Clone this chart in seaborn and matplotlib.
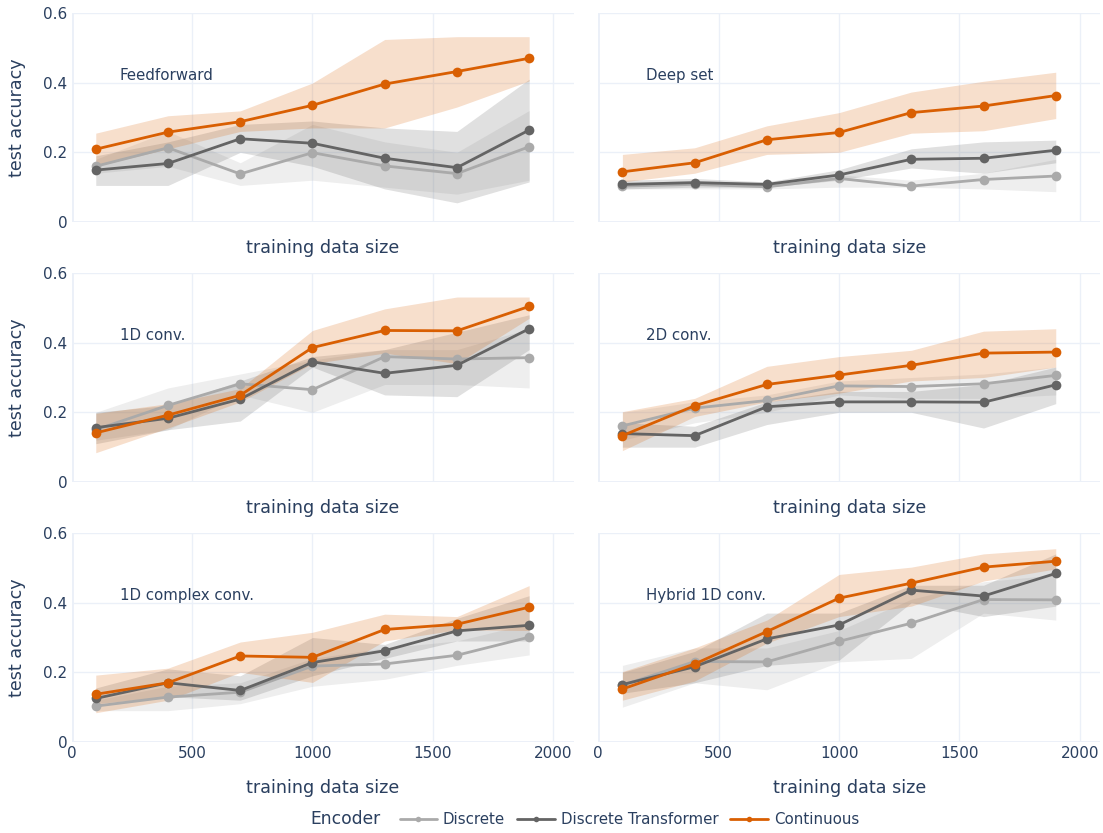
import numpy as np
import pandas as pd
import seaborn as sns
import matplotlib.pyplot as plt
from matplotlib.lines import Line2D

# data
sizes = [100, 400, 700, 1000, 1300, 1600, 1900]
encoders = ['Discrete', 'Discrete Transformer', 'Continuous']
panels = ['Feedforward', 'Deep set', '1D conv.', '2D conv.', '1D complex conv.', 'Hybrid 1D conv.']

# rows: Discrete, Discrete Transformer, Continuous
ff_mean = [[0.160, 0.213, 0.138, 0.199, 0.161, 0.139, 0.216],
           [0.149, 0.168, 0.239, 0.226, 0.183, 0.156, 0.264],
           [0.209, 0.258, 0.288, 0.335, 0.396, 0.432, 0.470]]
ff_lo = [[0.140, 0.160, 0.105, 0.120, 0.100, 0.080, 0.120],
         [0.105, 0.105, 0.200, 0.160, 0.095, 0.055, 0.115],
         [0.160, 0.210, 0.260, 0.270, 0.270, 0.330, 0.405]]
ff_hi = [[0.180, 0.260, 0.170, 0.280, 0.230, 0.200, 0.320],
         [0.190, 0.230, 0.280, 0.290, 0.270, 0.260, 0.410],
         [0.255, 0.305, 0.319, 0.399, 0.524, 0.532, 0.532]]

ds_mean = [[0.103, 0.108, 0.101, 0.125, 0.103, 0.122, 0.132],
           [0.108, 0.113, 0.108, 0.135, 0.180, 0.183, 0.206],
           [0.144, 0.170, 0.236, 0.257, 0.314, 0.333, 0.363]]
ds_lo = [[0.095, 0.095, 0.095, 0.100, 0.100, 0.095, 0.087],
         [0.095, 0.100, 0.100, 0.120, 0.155, 0.140, 0.170],
         [0.115, 0.140, 0.194, 0.200, 0.255, 0.262, 0.297]]
ds_hi = [[0.110, 0.120, 0.110, 0.135, 0.120, 0.140, 0.180],
         [0.120, 0.125, 0.115, 0.150, 0.210, 0.230, 0.235],
         [0.194, 0.213, 0.276, 0.314, 0.373, 0.404, 0.430]]

c1_mean = [[0.150, 0.220, 0.282, 0.265, 0.360, 0.353, 0.357],
           [0.156, 0.183, 0.238, 0.345, 0.312, 0.335, 0.440],
           [0.141, 0.192, 0.249, 0.386, 0.435, 0.434, 0.504]]
c1_lo = [[0.120, 0.150, 0.250, 0.200, 0.280, 0.280, 0.270],
         [0.110, 0.150, 0.175, 0.330, 0.250, 0.245, 0.380],
         [0.084, 0.155, 0.230, 0.340, 0.370, 0.340, 0.470]]
c1_hi = [[0.200, 0.270, 0.310, 0.350, 0.380, 0.380, 0.440],
         [0.200, 0.220, 0.290, 0.360, 0.380, 0.430, 0.480],
         [0.197, 0.225, 0.268, 0.435, 0.497, 0.531, 0.531]]

c2_mean = [[0.161, 0.212, 0.234, 0.276, 0.274, 0.282, 0.306],
           [0.139, 0.133, 0.216, 0.230, 0.230, 0.229, 0.279],
           [0.133, 0.219, 0.280, 0.307, 0.335, 0.370, 0.373]]
c2_lo = [[0.120, 0.170, 0.200, 0.250, 0.240, 0.240, 0.250],
         [0.100, 0.100, 0.165, 0.200, 0.200, 0.155, 0.225],
         [0.090, 0.188, 0.230, 0.255, 0.290, 0.300, 0.330]]
c2_hi = [[0.200, 0.230, 0.250, 0.290, 0.300, 0.310, 0.330],
         [0.170, 0.160, 0.230, 0.260, 0.260, 0.280, 0.330],
         [0.202, 0.240, 0.332, 0.360, 0.378, 0.433, 0.440]]

cc_mean = [[0.103, 0.129, 0.143, 0.218, 0.224, 0.249, 0.301],
           [0.125, 0.170, 0.148, 0.228, 0.262, 0.319, 0.335],
           [0.137, 0.170, 0.247, 0.243, 0.323, 0.338, 0.387]]
cc_lo = [[0.090, 0.090, 0.110, 0.160, 0.180, 0.220, 0.250],
         [0.110, 0.130, 0.120, 0.190, 0.240, 0.290, 0.290],
         [0.084, 0.120, 0.200, 0.171, 0.290, 0.322, 0.320]]
cc_hi = [[0.120, 0.160, 0.170, 0.240, 0.270, 0.290, 0.340],
         [0.155, 0.210, 0.190, 0.300, 0.280, 0.355, 0.420],
         [0.192, 0.212, 0.287, 0.315, 0.367, 0.360, 0.449]]

hy_mean = [[0.163, 0.231, 0.230, 0.289, 0.341, 0.409, 0.408],
           [0.165, 0.216, 0.296, 0.336, 0.436, 0.419, 0.484],
           [0.152, 0.224, 0.317, 0.413, 0.456, 0.502, 0.519]]
hy_lo = [[0.100, 0.170, 0.150, 0.230, 0.240, 0.370, 0.350],
         [0.140, 0.170, 0.220, 0.235, 0.400, 0.360, 0.390],
         [0.120, 0.175, 0.284, 0.360, 0.390, 0.462, 0.497]]
hy_hi = [[0.220, 0.270, 0.270, 0.320, 0.410, 0.460, 0.480],
         [0.200, 0.260, 0.370, 0.370, 0.450, 0.450, 0.540],
         [0.202, 0.270, 0.350, 0.481, 0.502, 0.540, 0.555]]

means = [ff_mean, ds_mean, c1_mean, c2_mean, cc_mean, hy_mean]
lows = [ff_lo, ds_lo, c1_lo, c2_lo, cc_lo, hy_lo]
highs = [ff_hi, ds_hi, c1_hi, c2_hi, cc_hi, hy_hi]

colors = {'Discrete': '#AAAAAA', 'Discrete Transformer': '#646464', 'Continuous': '#D95F02'}
grid_c = '#EBF0F8'
text_c = '#2A3F5F'

sns.set_theme(style='white')
plt.rcParams['font.family'] = ['DejaVu Sans']

fig = plt.figure(figsize=(11.03, 8.33), dpi=100)

W, H = 1103, 833
col_x = [71.7, 598.3]
ax_w = 502
row_top = [13, 273, 533]
ax_h = 209

for i, name in enumerate(panels):
    r, c = divmod(i, 2)
    ax = fig.add_axes([col_x[c] / W, 1 - (row_top[r] + ax_h) / H, ax_w / W, ax_h / H])

    rows = []
    for k, enc in enumerate(encoders):
        for x, y in zip(sizes, means[i][k]):
            rows.append({'size': x, 'acc': y, 'Encoder': enc})
        ax.fill_between(sizes, lows[i][k], highs[i][k], color=colors[enc],
                        alpha=0.2, linewidth=0, zorder=1)
    df = pd.DataFrame(rows)
    sns.lineplot(data=df, x='size', y='acc', hue='Encoder', palette=colors,
                 marker='o', markersize=7, markeredgewidth=0, linewidth=2,
                 errorbar=None, legend=False, ax=ax, zorder=3)

    ax.set_xlim(0, 2085)
    ax.set_ylim(0, 0.6)
    ax.set_xticks([0, 500, 1000, 1500, 2000])
    ax.set_yticks([0, 0.2, 0.4, 0.6])
    ax.grid(True, color=grid_c, linewidth=1)
    ax.axhline(0, color=grid_c, linewidth=2, zorder=0)
    ax.axvline(0, color=grid_c, linewidth=2, zorder=0)
    for s in ax.spines.values():
        s.set_visible(False)
    ax.tick_params(length=0, labelsize=11, colors=text_c, pad=3)
    ax.set_axisbelow(True)

    if c == 0:
        ax.set_yticklabels(['0', '0.2', '0.4', '0.6'])
        ax.set_ylabel('test accuracy', fontsize=12.6, color=text_c)
        ax.yaxis.set_label_coords(-0.092, 0.5)
    else:
        ax.set_yticklabels([])
        ax.set_ylabel('')
    ax.set_xlabel('training data size', fontsize=12.6, color=text_c)
    if r == 2:
        ax.set_xticklabels(['0', '500', '1000', '1500', '2000'])
        ax.xaxis.set_label_coords(0.5, -0.175)
    else:
        ax.set_xticklabels([])
        ax.xaxis.set_label_coords(0.5, -0.08)

    ax.text(200, 0.42, name, fontsize=10.8, color=text_c, ha='left', va='center')

handles = [Line2D([0], [0], color=colors[e], marker='o', markersize=4,
                  markeredgewidth=0, linewidth=2) for e in encoders]
fig.text(310 / W, 1 - 819 / H, 'Encoder', fontsize=12.3, color=text_c,
         ha='left', va='center')
leg = fig.legend(handles, encoders, loc='center left',
                 bbox_to_anchor=(386 / W, 1 - 820 / H), ncol=3, frameon=False,
                 fontsize=10.8, handlelength=2.5, handletextpad=0.4,
                 columnspacing=0.8, labelcolor=text_c)

fig.savefig('out.png', dpi=100)
